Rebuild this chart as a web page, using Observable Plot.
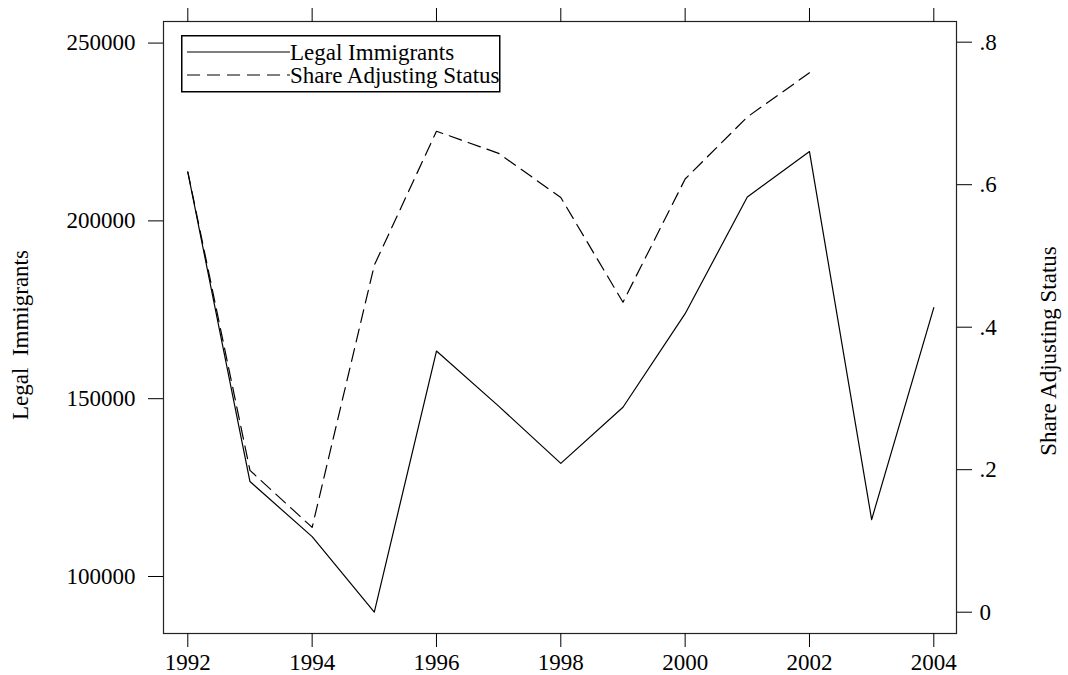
<!DOCTYPE html>
<html>
<head>
<meta charset="utf-8">
<script src="https://cdn.jsdelivr.net/npm/d3@7"></script>
<script src="https://cdn.jsdelivr.net/npm/@observablehq/plot@0.6"></script>
<style>
  html, body { margin: 0; padding: 0; background: white; }
  #wrap { position: relative; width: 1068px; height: 675px; font-family: "Liberation Serif", serif; color: #000; }
  .ytitle { position: absolute; font-size: 23px; white-space: pre; transform: translate(-50%, -50%) rotate(-90deg); }
  #legend { position: absolute; left: 181px; top: 35px; }
</style>
</head>
<body>
<div id="wrap"></div>
<script>
// ---- data ----
const years = [1992, 1993, 1994, 1995, 1996, 1997, 1998, 1999, 2000, 2001, 2002, 2003, 2004];
const legalImmigrants = [213700, 126700, 111200, 90000, 163400, 147900, 131800, 147600, 173900, 206700, 219500, 116000, 175600];
const shareYears = [1992, 1993, 1994, 1995, 1996, 1997, 1998, 1999, 2000, 2001, 2002];
const shareAdjusting = [0.618, 0.199, 0.119, 0.487, 0.675, 0.644, 0.582, 0.435, 0.608, 0.695, 0.757];

const xTicks = [1992, 1994, 1996, 1998, 2000, 2002, 2004];
const leftTicks = [100000, 150000, 200000, 250000];
const rightTicks = [0, 0.2, 0.4, 0.6, 0.8];
const rightTickLabels = ["0", ".2", ".4", ".6", ".8"];
const seriesNames = ["Legal Immigrants", "Share Adjusting Status"];

// right axis (share) expressed in left-axis units
const shareZero = 89961, sharePerUnit = 200365;
const toLeft = s => shareZero + s * sharePerUnit;

const immData = years.map((y, i) => ({year: y, value: legalImmigrants[i]}));
const shareData = shareYears.map((y, i) => ({year: y, value: toLeft(shareAdjusting[i])}));

const plot = Plot.plot({
  width: 1068,
  height: 675,
  marginLeft: 163,
  marginRight: 112,
  marginTop: 21,
  marginBottom: 42,
  style: {fontFamily: "Liberation Serif, serif", fontSize: "23px", background: "white", color: "black"},
  x: {type: "linear", domain: [1991.609, 2004.365]},
  y: {type: "linear", domain: [83970, 256070]},
  marks: [
    Plot.frame({stroke: "#222", strokeWidth: 1.2}),
    Plot.axisX({anchor: "bottom", ticks: xTicks, tickSize: 14, tickPadding: 6, tickFormat: d => String(d), label: null}),
    Plot.axisX({anchor: "top", ticks: xTicks, tickSize: 14, tickFormat: () => "", label: null}),
    Plot.axisY({anchor: "left", ticks: leftTicks, tickSize: 15, tickPadding: 13, tickFormat: d => String(d), label: null}),
    Plot.axisY({anchor: "right", ticks: rightTicks.map(toLeft), tickSize: 15, tickPadding: 8,
      tickFormat: (d, i) => rightTickLabels[i], label: null}),
    Plot.line(immData, {x: "year", y: "value", stroke: "black", strokeWidth: 1.2}),
    Plot.line(shareData, {x: "year", y: "value", stroke: "black", strokeWidth: 1.2, strokeDasharray: "13,7"})
  ]
});

const wrap = document.getElementById("wrap");
wrap.appendChild(plot);

// axis titles
const lt = document.createElement("div");
lt.className = "ytitle";
lt.textContent = "Legal  Immigrants";
lt.style.left = "21px"; lt.style.top = "335px";
wrap.appendChild(lt);

const rt = document.createElement("div");
rt.className = "ytitle";
rt.textContent = "Share Adjusting Status";
rt.style.left = "1049px"; rt.style.top = "351px";
wrap.appendChild(rt);

// legend
const lg = d3.select(wrap).append("svg").attr("id", "legend")
  .attr("width", 322).attr("height", 60)
  .style("font-family", "Liberation Serif, serif").style("font-size", "23px");
lg.append("rect").attr("x", 0.75).attr("y", 0.75).attr("width", 318).attr("height", 56)
  .attr("fill", "white").attr("stroke", "black").attr("stroke-width", 1.5);
const rows = lg.selectAll("g.row").data(seriesNames).join("g")
  .attr("class", "row").attr("transform", (d, i) => `translate(0, ${17 + i * 23})`);
rows.append("line").attr("x1", 6).attr("x2", 109).attr("y1", 0).attr("y2", 0)
  .attr("stroke", "black").attr("stroke-width", 1.2)
  .attr("stroke-dasharray", (d, i) => i === 1 ? "13,7" : null);
rows.append("text").attr("x", 109).attr("y", 0).attr("dy", "0.33em").text(d => d);
</script>
</body>
</html>
